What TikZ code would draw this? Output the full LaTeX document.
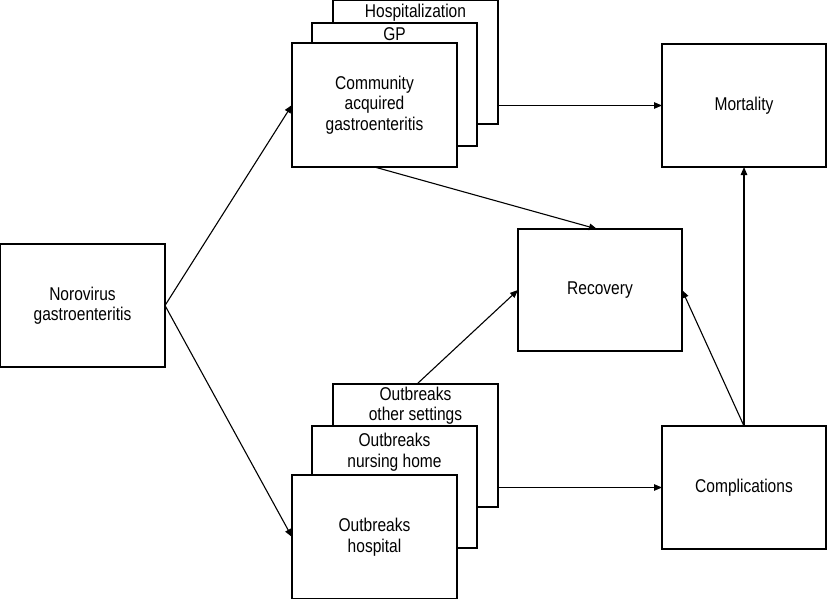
\documentclass[tikz,border=0pt]{standalone}
\usepackage{fontspec}
\setmainfont{Liberation Sans}[FakeStretch=0.84]
\usetikzlibrary{arrows.meta,calc}
\begin{document}
\begin{tikzpicture}[x=1pt,y=-1pt,
  box/.style={draw,line width=1.2pt,fill=white,inner sep=0pt,outer sep=0pt,
    align=center,font=\fontsize{18.5}{20.5}\selectfont},
  lbl/.style={inner sep=0pt,align=center,font=\fontsize{18.5}{20.5}\selectfont},
  arr/.style={line width=1.1pt,-{Triangle[length=8pt,width=6.5pt]}}]
\useasboundingbox (0,0) rectangle (827,599);
\node[box,minimum width=165,minimum height=123] (noro) at (82.5,305.5) {Norovirus\\gastroenteritis};
% community stack
\node[box,minimum width=165,minimum height=124] (hosp) at (415.5,62) {};
\node[lbl] (hosptxt) at ($(hosp.north)+(0,13)$) {Hospitalization};
\node[box,minimum width=165,minimum height=123] (gp) at (394.5,84.5) {};
\node[lbl] (gptxt) at ($(gp.north)+(0,11)$) {GP};
\node[box,minimum width=165,minimum height=124] (cag) at (374.5,105) {Community\\acquired\\gastroenteritis};
% outbreak stack
\node[box,minimum width=165,minimum height=123] (oth) at (415.5,445.5) {};
\node[lbl] (othtxt) at ($(oth.north)+(0,21.5)$) {Outbreaks\\other settings};
\node[box,minimum width=165,minimum height=122] (nh) at (394.5,487) {};
\node[lbl] (nhtxt) at ($(nh.north)+(0,26)$) {Outbreaks\\nursing home};
\node[box,minimum width=165,minimum height=124] (obh) at (374.5,537) {Outbreaks\\hospital};
% outcomes
\node[box,minimum width=164,minimum height=123] (mort) at (744,105.5) {Mortality};
\node[box,minimum width=164,minimum height=122] (rec) at (600,290) {Recovery};
\node[box,minimum width=164,minimum height=123] (comp) at (744,487.5) {Complications};
% connectors
\draw[arr] (noro.east) -- (cag.west);
\draw[arr] (noro.east) -- (obh.west);
\draw[arr] (hosp.east |- mort.west) -- (mort.west);
\draw[arr] (cag.south) -- ($(rec.north)+(-3,0)$);
\draw[arr] ($(oth.north)+(1.5,0)$) -- (rec.west);
\draw[arr] (oth.east |- comp.west) -- (comp.west);
\draw[arr] (comp.north) -- (mort.south);
\draw[arr] (comp.north) -- (rec.east);
\end{tikzpicture}
\end{document}
